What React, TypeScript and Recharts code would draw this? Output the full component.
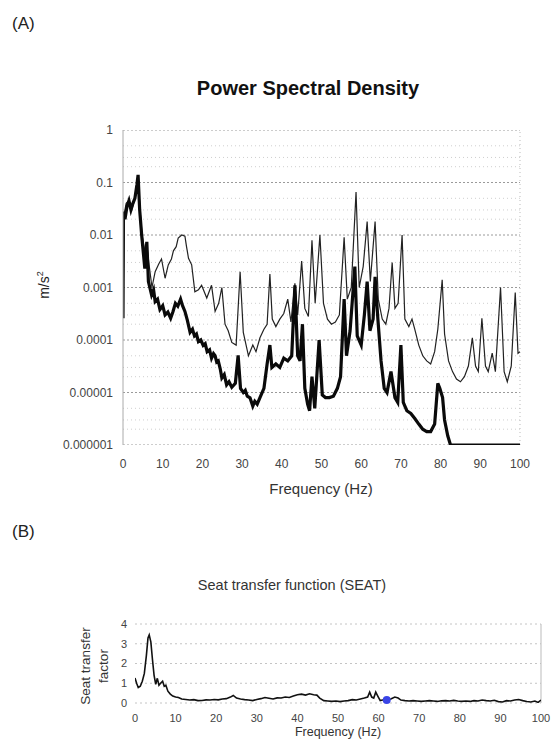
import React from 'react';
import { LineChart, Line, XAxis, YAxis, ReferenceLine, ReferenceDot } from 'recharts';

// ---------- Panel A : Power Spectral Density ----------
const psdThin = [
  { f: 0, v: 3e-4 }, { f: 0.3, v: 0.025 }, { f: 0.8, v: 0.04 }, { f: 1.5, v: 0.045 }, { f: 2.2, v: 0.03 },
  { f: 3, v: 0.05 }, { f: 3.8, v: 0.13 }, { f: 4.3, v: 0.03 }, { f: 4.8, v: 0.01 }, { f: 5.5, v: 0.005 },
  { f: 6.0, v: 0.0065 }, { f: 6.5, v: 0.003 }, { f: 7.3, v: 0.001 }, { f: 8.1, v: 0.002 }, { f: 9, v: 0.0028 },
  { f: 9.7, v: 0.0035 }, { f: 10.6, v: 0.0015 }, { f: 11.4, v: 0.0027 }, { f: 12.2, v: 0.0035 }, { f: 12.7, v: 0.005 },
  { f: 13.4, v: 0.006 }, { f: 13.9, v: 0.0087 }, { f: 14.8, v: 0.01 }, { f: 15.6, v: 0.0095 }, { f: 16.0, v: 0.006 },
  { f: 16.5, v: 0.0036 }, { f: 17.3, v: 0.0027 }, { f: 18.1, v: 0.00083 }, { f: 19, v: 0.0009 }, { f: 19.8, v: 0.0011 },
  { f: 21.1, v: 0.00063 }, { f: 22.3, v: 0.0011 }, { f: 23.2, v: 0.00035 }, { f: 24.1, v: 0.0005 }, { f: 24.9, v: 0.001 },
  { f: 25.7, v: 0.0002 }, { f: 26.5, v: 0.00015 }, { f: 27.4, v: 0.00009 }, { f: 28.5, v: 0.00008 }, { f: 29.5, v: 0.002 },
  { f: 30.3, v: 0.00014 }, { f: 31.6, v: 0.00005 }, { f: 32.7, v: 0.00008 }, { f: 33.5, v: 0.00006 }, { f: 34.5, v: 0.00011 },
  { f: 35.5, v: 0.00016 }, { f: 36.3, v: 0.0002 }, { f: 37, v: 0.0018 }, { f: 37.6, v: 0.00025 }, { f: 38.5, v: 0.00018 },
  { f: 39.5, v: 0.00025 }, { f: 40.5, v: 0.00032 }, { f: 41.5, v: 0.0006 }, { f: 42.3, v: 0.00022 }, { f: 43.3, v: 0.0012 },
  { f: 44, v: 0.0003 }, { f: 45, v: 0.0032 }, { f: 45.8, v: 0.0004 }, { f: 46.7, v: 0.00028 }, { f: 47.6, v: 0.0079 },
  { f: 48.4, v: 0.0005 }, { f: 49.6, v: 0.01 }, { f: 50.5, v: 0.0005 }, { f: 51.5, v: 0.00025 }, { f: 52.5, v: 0.0002 },
  { f: 53.5, v: 0.00022 }, { f: 54.5, v: 0.0003 }, { f: 55.7, v: 0.009 }, { f: 56.5, v: 0.0006 }, { f: 57.5, v: 0.001 },
  { f: 58.7, v: 0.066 }, { f: 59.5, v: 0.001 }, { f: 60.5, v: 0.0025 }, { f: 61.5, v: 0.018 }, { f: 62.3, v: 0.0013 },
  { f: 63.5, v: 0.018 }, { f: 64.3, v: 0.0006 }, { f: 65.3, v: 0.00025 }, { f: 66.2, v: 0.0002 }, { f: 67, v: 0.0004 },
  { f: 67.8, v: 0.003 }, { f: 68.5, v: 0.0004 }, { f: 69.3, v: 0.0005 }, { f: 70.3, v: 0.01 }, { f: 71, v: 0.00025 },
  { f: 72, v: 0.00018 }, { f: 72.8, v: 0.00025 }, { f: 73.5, v: 0.00016 }, { f: 74.5, v: 0.00008 }, { f: 75.5, v: 0.00005 },
  { f: 76.5, v: 0.00004 }, { f: 77.5, v: 0.000035 }, { f: 78.5, v: 0.00006 }, { f: 79.3, v: 0.00016 }, { f: 80.4, v: 0.0014 },
  { f: 81, v: 0.00013 }, { f: 82, v: 0.00004 }, { f: 83, v: 0.000025 }, { f: 84, v: 0.000018 }, { f: 85, v: 0.000016 },
  { f: 86, v: 0.00002 }, { f: 87, v: 0.000032 }, { f: 88, v: 0.00011 }, { f: 88.8, v: 0.000032 }, { f: 89.5, v: 0.000025 },
  { f: 90.4, v: 0.00026 }, { f: 91.3, v: 0.000032 }, { f: 92, v: 0.000025 }, { f: 93, v: 0.000056 }, { f: 93.8, v: 0.000025 },
  { f: 95.1, v: 0.001 }, { f: 96, v: 0.000025 }, { f: 96.8, v: 0.000016 }, { f: 97.8, v: 0.000032 }, { f: 98.8, v: 0.0008 },
  { f: 99.5, v: 0.000056 }, { f: 100, v: 0.00006 },
];

const psdThick = [
  { f: 0, v: 2.6e-4 }, { f: 0.1, v: 0.028 }, { f: 0.5, v: 0.02 }, { f: 1, v: 0.035 }, { f: 1.5, v: 0.045 },
  { f: 2, v: 0.03 }, { f: 2.5, v: 0.04 }, { f: 3, v: 0.05 }, { f: 3.5, v: 0.09 }, { f: 3.8, v: 0.14 },
  { f: 4.2, v: 0.03 }, { f: 4.7, v: 0.01 }, { f: 5.5, v: 0.0023 }, { f: 6.0, v: 0.0074 }, { f: 6.4, v: 0.0013 },
  { f: 7.2, v: 0.00072 }, { f: 7.7, v: 0.0009 }, { f: 8.1, v: 0.00054 }, { f: 8.7, v: 0.0006 }, { f: 9.3, v: 0.00038 },
  { f: 10, v: 0.00045 }, { f: 10.6, v: 0.0003 }, { f: 11.3, v: 0.00034 }, { f: 12, v: 0.00026 }, { f: 12.6, v: 0.00035 },
  { f: 13.2, v: 0.0005 }, { f: 13.8, v: 0.00044 }, { f: 14.5, v: 0.0006 }, { f: 15, v: 0.00045 }, { f: 15.6, v: 0.00035 },
  { f: 16.2, v: 0.00024 }, { f: 16.9, v: 0.00014 }, { f: 17.5, v: 0.00016 }, { f: 18, v: 0.00012 }, { f: 18.5, v: 0.00013 },
  { f: 19, v: 0.000093 }, { f: 19.6, v: 0.0001 }, { f: 20.2, v: 0.000079 }, { f: 20.7, v: 0.000085 }, { f: 21.2, v: 0.00006 },
  { f: 21.8, v: 0.000065 }, { f: 22.3, v: 0.000045 }, { f: 22.8, v: 0.000055 }, { f: 23.2, v: 0.00005 }, { f: 23.6, v: 0.000038 },
  { f: 24, v: 0.00004 }, { f: 24.5, v: 0.000028 }, { f: 24.9, v: 0.000019 }, { f: 25.5, v: 0.000022 }, { f: 26.1, v: 0.000014 },
  { f: 26.7, v: 0.000016 }, { f: 27.4, v: 0.0000126 }, { f: 28.3, v: 0.000015 }, { f: 29, v: 0.000051 }, { f: 29.6, v: 0.000012 },
  { f: 30.3, v: 0.00001 }, { f: 30.8, v: 0.000011 }, { f: 31.3, v: 0.0000085 }, { f: 32, v: 0.0000079 }, { f: 32.7, v: 0.0000055 },
  { f: 33.2, v: 0.0000068 }, { f: 33.8, v: 0.000006 }, { f: 34.5, v: 0.000008 }, { f: 35.5, v: 0.000012 }, { f: 36.3, v: 0.000035 },
  { f: 37, v: 0.00008 }, { f: 37.5, v: 0.00003 }, { f: 38.5, v: 0.000035 }, { f: 39.5, v: 0.00003 }, { f: 40.5, v: 0.000045 },
  { f: 41.5, v: 0.00004 }, { f: 42.5, v: 0.00005 }, { f: 43.3, v: 0.0011 }, { f: 44, v: 0.00005 }, { f: 44.6, v: 0.00004 },
  { f: 45.2, v: 0.0002 }, { f: 45.8, v: 0.000012 }, { f: 46.5, v: 0.000006 }, { f: 47, v: 0.0000045 }, { f: 47.6, v: 0.00002 },
  { f: 48.3, v: 0.000005 }, { f: 49.4, v: 0.0001 }, { f: 50.2, v: 0.000009 }, { f: 51, v: 0.000008 }, { f: 52, v: 0.000008 },
  { f: 53, v: 0.0000085 }, { f: 54, v: 0.000012 }, { f: 54.8, v: 0.00002 }, { f: 55.7, v: 0.0006 }, { f: 56.3, v: 0.00005 },
  { f: 57.2, v: 0.00015 }, { f: 58.4, v: 0.0025 }, { f: 59, v: 0.00012 }, { f: 60, v: 0.00008 }, { f: 60.8, v: 0.0003 },
  { f: 61.5, v: 0.0013 }, { f: 62.2, v: 0.00015 }, { f: 63, v: 0.00025 }, { f: 63.5, v: 0.0016 }, { f: 64.2, v: 0.00025 },
  { f: 65, v: 0.00004 }, { f: 65.8, v: 0.000012 }, { f: 66.5, v: 0.00001 }, { f: 67.5, v: 0.000025 }, { f: 68.5, v: 0.000008 },
  { f: 69.2, v: 0.0000065 }, { f: 70, v: 0.00008 }, { f: 70.6, v: 0.0000065 }, { f: 71.5, v: 0.0000045 }, { f: 72.5, v: 0.000004 },
  { f: 73.5, v: 0.0000032 }, { f: 74.5, v: 0.0000025 }, { f: 75.5, v: 0.000002 }, { f: 76.5, v: 0.0000018 }, { f: 77.5, v: 0.0000018 },
  { f: 78.5, v: 0.0000025 }, { f: 79.3, v: 0.000015 }, { f: 79.8, v: 0.000012 }, { f: 80.5, v: 0.000008 }, { f: 81, v: 0.000003 },
  { f: 81.8, v: 0.0000015 }, { f: 82.5, v: 0.000001 }, { f: 100, v: 0.000001 },
];

const psdTicks = [0.000001, 0.00001, 0.0001, 0.001, 0.01, 0.1, 1];
const psdTickLabels = ['0.000001', '0.00001', '0.0001', '0.001', '0.01', '0.1', '1'];
const psdMinorGrid = [
  0.5, 0.3, 0.2, 0.05, 0.03, 0.02, 0.005, 0.003, 0.002, 0.0005, 0.0003, 0.0002,
  0.00005, 0.00003, 0.00002, 0.000005, 0.000003, 0.000002,
];
const freqTicks = [0, 10, 20, 30, 40, 50, 60, 70, 80, 90, 100];

// ---------- Panel B : Seat transfer function ----------
const seatData = [
  { f: 0, v: 1.27 }, { f: 0.4, v: 1.0 }, { f: 0.8, v: 0.78 }, { f: 1.3, v: 0.85 }, { f: 1.8, v: 1.1 },
  { f: 2.3, v: 1.5 }, { f: 2.8, v: 2.4 }, { f: 3.2, v: 3.3 }, { f: 3.5, v: 3.45 }, { f: 3.9, v: 3.1 },
  { f: 4.3, v: 2.2 }, { f: 4.7, v: 1.4 }, { f: 5.1, v: 0.95 }, { f: 5.5, v: 1.25 }, { f: 5.9, v: 0.9 },
  { f: 6.3, v: 1.0 }, { f: 6.8, v: 1.1 }, { f: 7.2, v: 0.85 }, { f: 7.6, v: 0.9 }, { f: 8.1, v: 0.6 },
  { f: 8.7, v: 0.45 }, { f: 9.3, v: 0.35 }, { f: 10, v: 0.3 }, { f: 10.7, v: 0.28 }, { f: 11.5, v: 0.2 },
  { f: 12.5, v: 0.18 }, { f: 13.5, v: 0.15 }, { f: 14.5, v: 0.17 }, { f: 15.5, v: 0.12 }, { f: 16.5, v: 0.13 },
  { f: 17.5, v: 0.16 }, { f: 18.5, v: 0.15 }, { f: 19.5, v: 0.18 }, { f: 20.5, v: 0.16 }, { f: 21.5, v: 0.2 },
  { f: 22.5, v: 0.22 }, { f: 23.5, v: 0.3 }, { f: 24.2, v: 0.38 }, { f: 25, v: 0.25 }, { f: 26, v: 0.2 },
  { f: 27, v: 0.17 }, { f: 28, v: 0.15 }, { f: 29, v: 0.12 }, { f: 30, v: 0.18 }, { f: 31, v: 0.22 },
  { f: 32, v: 0.28 }, { f: 33, v: 0.24 }, { f: 34, v: 0.2 }, { f: 35, v: 0.26 }, { f: 36, v: 0.25 },
  { f: 37, v: 0.3 }, { f: 38, v: 0.28 }, { f: 39, v: 0.35 }, { f: 40, v: 0.42 }, { f: 41, v: 0.45 },
  { f: 42, v: 0.4 }, { f: 43, v: 0.47 }, { f: 44, v: 0.42 }, { f: 44.8, v: 0.4 }, { f: 45.5, v: 0.25 },
  { f: 46.5, v: 0.12 }, { f: 47.5, v: 0.1 }, { f: 48.5, v: 0.08 }, { f: 49.5, v: 0.1 }, { f: 50.5, v: 0.07 },
  { f: 51.5, v: 0.1 }, { f: 52.5, v: 0.12 }, { f: 53.5, v: 0.17 }, { f: 54.5, v: 0.15 }, { f: 55.5, v: 0.2 },
  { f: 56.5, v: 0.25 }, { f: 57.3, v: 0.3 }, { f: 57.8, v: 0.55 }, { f: 58.3, v: 0.3 }, { f: 58.8, v: 0.25 },
  { f: 59.3, v: 0.55 }, { f: 59.8, v: 0.35 }, { f: 60.4, v: 0.12 }, { f: 61, v: 0.15 }, { f: 62, v: 0.15 },
  { f: 63, v: 0.2 }, { f: 64, v: 0.3 }, { f: 64.8, v: 0.25 }, { f: 65.5, v: 0.15 }, { f: 66.5, v: 0.12 },
  { f: 67.5, v: 0.1 }, { f: 68.5, v: 0.12 }, { f: 69.5, v: 0.1 }, { f: 70.5, v: 0.08 }, { f: 71.5, v: 0.1 },
  { f: 72.5, v: 0.12 }, { f: 73.5, v: 0.1 }, { f: 74.5, v: 0.08 }, { f: 75.5, v: 0.11 }, { f: 76.5, v: 0.12 },
  { f: 77.5, v: 0.1 }, { f: 78.5, v: 0.13 }, { f: 79.5, v: 0.1 }, { f: 80.5, v: 0.08 }, { f: 81.5, v: 0.1 },
  { f: 82.5, v: 0.08 }, { f: 83.5, v: 0.12 }, { f: 84.5, v: 0.1 }, { f: 85.5, v: 0.15 }, { f: 86.5, v: 0.12 },
  { f: 87.5, v: 0.1 }, { f: 88.5, v: 0.14 }, { f: 89.5, v: 0.07 }, { f: 90.5, v: 0.05 }, { f: 91.5, v: 0.12 },
  { f: 92.5, v: 0.1 }, { f: 93.5, v: 0.15 }, { f: 94.5, v: 0.18 }, { f: 95.5, v: 0.12 }, { f: 96.5, v: 0.08 },
  { f: 97.5, v: 0.05 }, { f: 98.5, v: 0.1 }, { f: 99.3, v: 0.03 }, { f: 100, v: 0.15 },
];
const seatMarker = [{ f: 62, v: 0.15 }];
const seatTicks = [0, 1, 2, 3, 4];

const FONT = '"Liberation Sans", Arial, sans-serif';

const abs = (left: number, top: number, extra: React.CSSProperties = {}): React.CSSProperties => ({
  position: 'absolute',
  left,
  top,
  fontFamily: FONT,
  color: '#222',
  whiteSpace: 'nowrap',
  ...extra,
});

export default function App() {
  return (
    <div style={{ position: 'absolute', left: 0, top: 0, width: 552, height: 749, background: '#fff', overflow: 'hidden' }}>
      <div style={abs(12, 14, { fontSize: 17, lineHeight: '20px' })}>(A)</div>
      <div style={abs(108, 76, { width: 400, textAlign: 'center', fontSize: 20, fontWeight: 'bold', lineHeight: '24px', color: '#111' })}>
        Power Spectral Density
      </div>

      <div style={{ position: 'absolute', left: 0, top: 100 }}>
        <LineChart width={552} height={400} margin={{ top: 30, right: 32, bottom: 25, left: 63 }}>
          <XAxis
            type="number"
            dataKey="f"
            domain={[0, 100]}
            ticks={freqTicks}
            allowDataOverflow
            axisLine={false}
            tickLine={false}
            tickMargin={8}
            height={30}
            tick={{ fontSize: 12, fill: '#444', fontFamily: FONT }}
          />
          <YAxis
            type="number"
            dataKey="v"
            scale="log"
            domain={[0.000001, 1]}
            ticks={psdTicks}
            allowDataOverflow
            width={60}
            axisLine={{ stroke: '#aaa' }}
            tickLine={false}
            tickMargin={4}
            tickFormatter={(val: number) => psdTickLabels[psdTicks.indexOf(val)] ?? String(val)}
            tick={{ fontSize: 12, fill: '#444', fontFamily: FONT }}
          />
          {psdMinorGrid.map((g) => (
            <ReferenceLine key={'m' + g} y={g} stroke="#cfcfcf" strokeDasharray="1 3" ifOverflow="hidden" />
          ))}
          {psdTicks.map((g) => (
            <ReferenceLine key={'d' + g} y={g} stroke="#9a9a9a" strokeDasharray="2 2" ifOverflow="hidden" />
          ))}
          <ReferenceLine x={100} stroke="#bbb" strokeDasharray="1 3" />
          <Line data={psdThin} dataKey="v" type="linear" stroke="#222" strokeWidth={1.2} dot={false} isAnimationActive={false} />
          <Line data={psdThick} dataKey="v" type="linear" stroke="#0a0a0a" strokeWidth={3.2} dot={false} isAnimationActive={false} />
        </LineChart>
      </div>

      <div style={abs(40 - 30, 285 - 10, { width: 60, height: 20, textAlign: 'center', fontSize: 14, lineHeight: '20px', transform: 'rotate(-90deg)' })}>
        m/s<sup style={{ fontSize: 9 }}>2</sup>
      </div>
      <div style={abs(221, 479, { width: 200, textAlign: 'center', fontSize: 15, lineHeight: '20px', color: '#333' })}>
        Frequency (Hz)
      </div>

      <div style={abs(12, 522, { fontSize: 17, lineHeight: '20px' })}>(B)</div>
      <div style={abs(142, 576, { width: 300, textAlign: 'center', fontSize: 14.5, lineHeight: '18px', color: '#333' })}>
        Seat transfer function (SEAT)
      </div>

      <div style={{ position: 'absolute', left: 0, top: 600 }}>
        <LineChart width={552} height={149} margin={{ top: 24, right: 11, bottom: 26, left: 95 }}>
          <XAxis
            type="number"
            dataKey="f"
            domain={[0, 100]}
            ticks={freqTicks}
            allowDataOverflow
            axisLine={false}
            tickLine={false}
            tickMargin={5}
            height={20}
            tick={{ fontSize: 11, fill: '#444', fontFamily: FONT }}
          />
          <YAxis
            type="number"
            dataKey="v"
            domain={[0, 4]}
            ticks={seatTicks}
            allowDataOverflow
            width={40}
            axisLine={false}
            tickLine={false}
            tick={{ fontSize: 11, fill: '#444', fontFamily: FONT }}
          />
          {seatTicks.map((g) => (
            <ReferenceLine key={'s' + g} y={g} stroke="#c4c4c4" strokeDasharray="2 3" />
          ))}
          <ReferenceLine x={100} stroke="#bbb" />
          <Line data={seatData} dataKey="v" type="linear" stroke="#111" strokeWidth={1.6} dot={false} isAnimationActive={false} />
          {seatMarker.map((m) => (
            <ReferenceDot key={'p' + m.f} x={m.f} y={m.v} r={4} fill="#3a45e6" stroke="none" />
          ))}
        </LineChart>
      </div>

      <div style={abs(86 - 45, 666 - 9, { width: 90, height: 18, textAlign: 'center', fontSize: 13.5, lineHeight: '18px', color: '#333', transform: 'rotate(-90deg)' })}>
        Seat transfer
      </div>
      <div style={abs(104 - 30, 666 - 9, { width: 60, height: 18, textAlign: 'center', fontSize: 13.5, lineHeight: '18px', color: '#333', transform: 'rotate(-90deg)' })}>
        factor
      </div>
      <div style={abs(238, 724, { width: 200, textAlign: 'center', fontSize: 12.5, lineHeight: '16px', color: '#333' })}>
        Frequency (Hz)
      </div>
    </div>
  );
}
